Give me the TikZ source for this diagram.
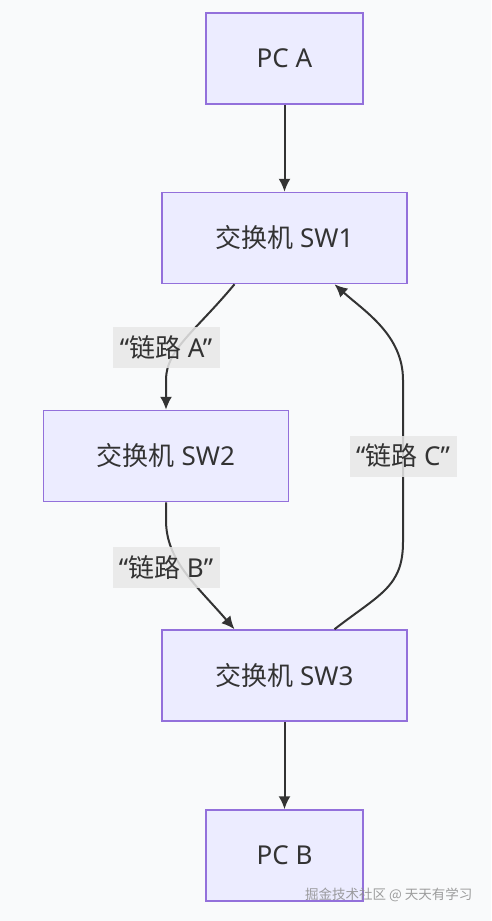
\documentclass[tikz,border=0pt]{standalone}
\usepackage{fontspec}
\setmainfont{Noto Sans}
\newfontfamily\cjk{Noto Sans CJK SC}
\usetikzlibrary{arrows.meta,shapes.geometric}
\definecolor{nodefill}{HTML}{ECECFF}
\definecolor{nodeline}{HTML}{9370DB}
\definecolor{edgeline}{HTML}{333333}
\definecolor{labelfill}{HTML}{E8E8E8}
\definecolor{paper}{HTML}{F9FAFB}

\begin{document}
\begin{tikzpicture}[x=1pt,y=-1pt]
\tikzstyle{pc} = [rectangle, draw=nodeline, line width=1.5pt, fill=nodefill,
text=edgeline, minimum width=157pt, minimum height=91pt, inner sep=0pt,
font=\fontsize{26}{30}\selectfont]
\tikzstyle{switch} = [pc, minimum width=245pt]
\tikzstyle{link} = [rectangle, fill=labelfill, fill opacity=0.85, text opacity=1,
text=edgeline, minimum width=107pt, minimum height=41pt, inner sep=0pt,
font=\fontsize{26}{30}\selectfont]
\tikzstyle{line} = [draw=edgeline, line width=2pt, -{Latex[length=13pt,width=12pt]}];
\tikzstyle{watermark} = [text=gray!90, opacity=0.85, font=\fontsize{13.5}{16}\selectfont\cjk]

\fill [paper] (0,0) rectangle (491,921);
\useasboundingbox (0,0) rectangle (491,921);

% the two PCs
\node [pc] (pca) at (284.5,58.5) {PC A};
\node [pc] (pcb) at (284.5,855.5) {PC B};
% the three switches
\node [switch] (sw1) at (284.5,238) {{\cjk 交换机} SW1};
\node [switch] (sw2) at (166,456) {{\cjk 交换机} SW2};
\node [switch] (sw3) at (284.5,675.5) {{\cjk 交换机} SW3};

\coordinate (bendc) at (403,456);

\path [line] (pca) -- (sw1);
\path [line] ([xshift=-50pt]sw1.south) .. controls +(-39,47) and +(0,-30) .. ([yshift=30pt]sw2.north) -- (sw2.north);
\path [line] (sw2.south) -- +(0,18) .. controls +(0,40) and +(-39,-45) .. ([xshift=-50pt]sw3.north);
\path [line] ([xshift=50pt]sw3.north) .. controls +(45,-35) and +(0,45) .. ([yshift=-86pt]bendc)
  -- ([yshift=76pt]bendc) .. controls +(0,-45) and +(30,27) .. ([xshift=50pt]sw1.south);
\path [line] (sw3) -- (pcb);

% link labels
\node [link] (linka) at (166,347.5) {“{\cjk 链路} A”};
\node [link] (linkb) at (166,567.5) {“{\cjk 链路} B”};
\node [link] (linkc) at (bendc) {“{\cjk 链路} C”};

\node [watermark, anchor=east] (sign) at (476,895) {掘金技术社区 @ 天天有学习};
\end{tikzpicture}
\end{document}
